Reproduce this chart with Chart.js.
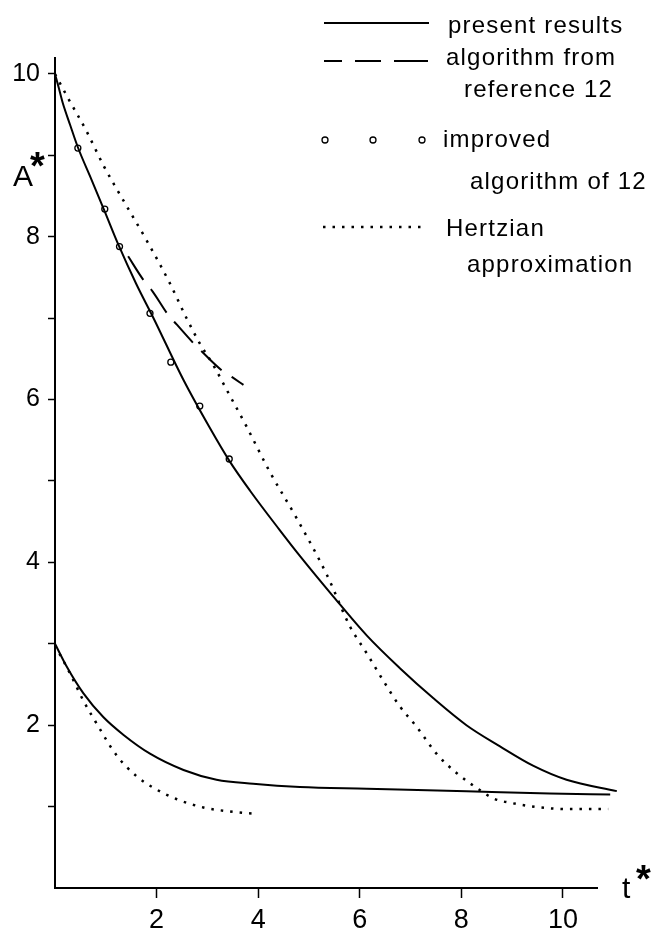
<!DOCTYPE html>
<html>
<head>
<meta charset="utf-8">
<script src="https://cdn.jsdelivr.net/npm/chart.js@4/dist/chart.umd.min.js"></script>
<style>
  html, body { margin: 0; padding: 0; background: #fff; }
  #wrap { width: 670px; height: 933px; }
</style>
</head>
<body>
<div id="wrap"><canvas id="chart" width="670" height="933"></canvas></div>
<script>
// values (t*, A*)
const upperSolidT = [0, 0.07, 0.15, 0.3, 0.45, 0.72, 0.98, 1.25, 1.6, 1.94, 2.53, 3.05, 3.43, 3.84, 4.42, 4.82, 5.48, 6.14, 6.79, 7.45, 8.1, 8.76, 9.42, 10.07, 11.06];
const upperSolidA = [10, 9.84, 9.65, 9.37, 9.1, 8.7, 8.31, 7.9, 7.42, 7.0, 6.24, 5.65, 5.25, 4.88, 4.4, 4.08, 3.58, 3.1, 2.7, 2.33, 2.0, 1.74, 1.5, 1.33, 1.19];

const lowerSolidT = [0, 0.23, 0.56, 0.95, 1.35, 1.87, 2.53, 3.18, 3.9, 4.82, 6.14, 8.1, 9.74, 10.93];
const lowerSolidA = [3.0, 2.72, 2.39, 2.1, 1.88, 1.65, 1.45, 1.33, 1.28, 1.24, 1.22, 1.19, 1.16, 1.15];

const ref12T = [1.44, 1.74, 1.92, 2.23, 2.4, 2.76, 2.89, 3.28, 3.48, 3.71];
const ref12A = [7.76, 7.47, 7.33, 7.04, 6.92, 6.67, 6.59, 6.36, 6.28, 6.18];

const improvedT = [0.45, 0.98, 1.27, 1.87, 2.28, 2.85, 3.43];
const improvedA = [9.09, 8.34, 7.88, 7.06, 6.46, 5.92, 5.27];

const hertzUpperT = [0, 0.26, 0.61, 0.96, 1.38, 1.8, 2.26, 2.59, 2.85, 3.12, 3.38, 3.77, 4.23, 4.76, 5.35, 5.81, 6.14, 6.46, 6.79, 7.12, 7.51, 7.91, 8.37, 8.63, 9.02, 9.55, 10.07, 10.89];
const hertzUpperA = [10, 9.7, 9.31, 8.87, 8.41, 7.96, 7.43, 7.0, 6.69, 6.42, 6.12, 5.67, 5.11, 4.54, 3.85, 3.21, 2.88, 2.55, 2.23, 1.98, 1.65, 1.41, 1.2, 1.1, 1.04, 0.99, 0.97, 0.97];

const hertzLowerT = [0, 0.3, 0.56, 0.82, 1.2, 1.61, 1.97, 2.4, 2.92, 3.44, 3.97];
const hertzLowerA = [2.98, 2.63, 2.3, 2.02, 1.64, 1.37, 1.22, 1.09, 0.99, 0.94, 0.91];

const xTicks = [2, 4, 6, 8, 10];
const yTicks = [1, 2, 3, 4, 5, 6, 7, 8, 9, 10];

function pts(xs, ys) {
  return xs.map((x, i) => ({ x: x, y: ys[i] }));
}

const FONT = '"Liberation Sans", Arial, sans-serif';
const DOTS = [2.5, 7];

function lineSet(xs, ys, dash, width) {
  return {
    data: pts(xs, ys),
    borderColor: "#000",
    borderWidth: width || 2,
    borderDash: dash,
    pointRadius: 0,
    fill: false,
    cubicInterpolationMode: "monotone",
    clip: false,
  };
}

// legend + axis titles, drawn on top
const decorations = {
  id: "decorations",
  afterDraw(chart) {
    const ctx = chart.ctx;
    ctx.save();
    ctx.fillStyle = "#000";
    ctx.strokeStyle = "#000";

    // axis titles
    ctx.font = "30px " + FONT;
    ctx.fillText("A", 13, 186);
    ctx.fillText("t", 622, 898);
    ctx.font = "bold 38px " + FONT;
    ctx.fillText("*", 30, 179);
    ctx.fillText("*", 636, 892);

    // legend samples
    ctx.lineWidth = 2;
    ctx.beginPath();
    ctx.moveTo(324, 23);
    ctx.lineTo(429, 23);
    ctx.stroke();

    [[324, 342], [355, 381], [394, 428]].forEach((s) => {
      ctx.beginPath();
      ctx.moveTo(s[0], 61);
      ctx.lineTo(s[1], 61);
      ctx.stroke();
    });

    ctx.lineWidth = 1.3;
    [325, 373, 422].forEach((cx) => {
      ctx.beginPath();
      ctx.arc(cx, 140, 3, 0, Math.PI * 2);
      ctx.stroke();
    });

    ctx.lineWidth = 2.5;
    ctx.setLineDash(DOTS);
    ctx.beginPath();
    ctx.moveTo(323, 227);
    ctx.lineTo(427, 227);
    ctx.stroke();
    ctx.setLineDash([]);

    // legend text
    ctx.font = "24px " + FONT;
    ctx.letterSpacing = "1.2px";
    ctx.fillText("present results", 448, 33);
    ctx.fillText("algorithm from", 446, 65);
    ctx.fillText("reference 12", 464, 97);
    ctx.fillText("improved", 443, 147);
    ctx.fillText("algorithm of 12", 470, 189);
    ctx.fillText("Hertzian", 446, 236);
    ctx.fillText("approximation", 467, 272);
    ctx.restore();
  },
};

const chart = new Chart(document.getElementById("chart"), {
  type: "line",
  data: {
    datasets: [
      lineSet(upperSolidT, upperSolidA, []),
      lineSet(lowerSolidT, lowerSolidA, []),
      lineSet(ref12T, ref12A, [28, 12]),
      lineSet(hertzUpperT, hertzUpperA, DOTS, 2.5),
      lineSet(hertzLowerT, hertzLowerA, DOTS, 2.5),
      {
        data: pts(improvedT, improvedA),
        showLine: false,
        pointRadius: 3,
        pointBorderWidth: 1.3,
        pointBorderColor: "#000",
        pointBackgroundColor: "#fff",
        clip: false,
      },
    ],
  },
  options: {
    responsive: false,
    animation: false,
    events: [],
    layout: { padding: { left: 0, right: 73, top: 57.7, bottom: 0 } },
    plugins: { legend: { display: false }, tooltip: { enabled: false } },
    scales: {
      x: {
        type: "linear",
        min: 0,
        max: 10.67,
        afterBuildTicks: (s) => { s.ticks = xTicks.map((v) => ({ value: v })); },
        afterFit: (s) => { s.height = 45; },
        ticks: {
          color: "#000",
          font: { family: FONT, size: 27 },
          padding: 6,
          maxRotation: 0,
          autoSkip: false,
        },
        grid: {
          drawOnChartArea: false,
          drawTicks: true,
          tickLength: 10,
          tickColor: "#000",
          tickWidth: 1.5,
        },
        border: { display: true, color: "#000", width: 2 },
      },
      y: {
        type: "linear",
        min: 0,
        max: 10.2,
        afterBuildTicks: (s) => { s.ticks = yTicks.map((v) => ({ value: v })); },
        afterFit: (s) => { s.width = 55; },
        ticks: {
          color: "#000",
          font: { family: FONT, size: 25 },
          padding: 8,
          autoSkip: false,
          callback: (v) => (v % 2 === 0 ? String(v) : ""),
        },
        grid: {
          drawOnChartArea: false,
          drawTicks: true,
          tickLength: 7,
          tickColor: "#000",
          tickWidth: 1.5,
        },
        border: { display: true, color: "#000", width: 2 },
      },
    },
  },
  plugins: [decorations],
});
</script>
</body>
</html>
